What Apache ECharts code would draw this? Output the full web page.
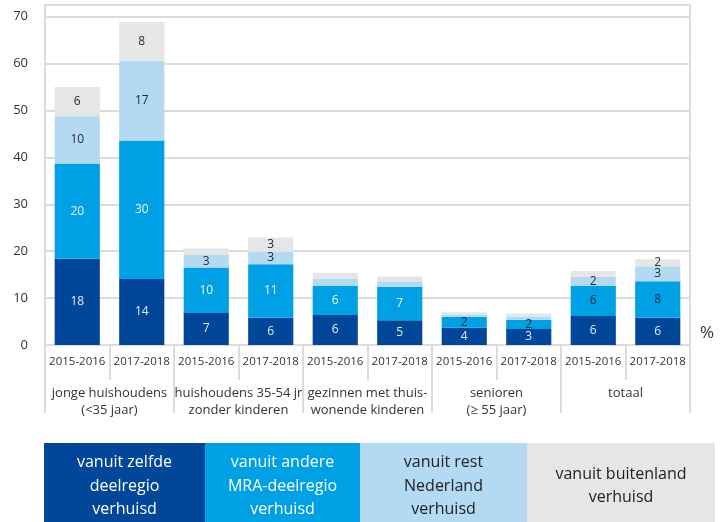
<!DOCTYPE html>
<html><head><meta charset="utf-8">
<script src="https://cdn.jsdelivr.net/npm/echarts@6/dist/echarts.min.js"></script>
<style>html,body{margin:0;padding:0;background:#fff}#c{width:725px;height:522px}</style>
</head><body><div id="c"></div>
<script>
const years = ['2015-2016','2017-2018','2015-2016','2017-2018','2015-2016','2017-2018','2015-2016','2017-2018','2015-2016','2017-2018'];
const groups = ['jonge huishoudens\n(<35 jaar)','huishoudens 35-54 jr\nzonder kinderen','gezinnen met thuis-\nwonende kinderen','senioren\n(≥ 55 jaar)','totaal'];
const zelfde   = [18.4, 14.1, 6.8, 5.8, 6.4, 5.3, 3.7, 3.4, 6.2, 5.8];
const andere   = [20.3, 29.5, 9.7, 11.4, 6.2, 7.1, 2.3, 2.0, 6.4, 7.8];
const rest     = [10.1, 17.0, 2.7, 2.7, 1.5, 1.2, 0.5, 0.7, 1.9, 3.2];
const buiten   = [6.2, 8.3, 1.4, 3.0, 1.3, 1.0, 0.5, 0.6, 1.3, 1.5];
const seriesNames = ['vanuit zelfde\ndeelregio\nverhuisd','vanuit andere\nMRA-deelregio\nverhuisd','vanuit rest\nNederland\nverhuisd','vanuit buitenland\nverhuisd'];
const restLabelShown = [0,1,2,3,8,9];
const buitenLabelShown = [0,1,3,9];
const andereDarkLabel = [6,7,8,9];
const yTicks = [0,10,20,30,40,50,60,70];

const colors = ['#00479a','#00a0e4','#b3d9f3','#e6e6e6'];
const FONT = 'Open Sans';

function mk(vals, labelFn) {
  return vals.map((v,i) => ({value: v, label: labelFn(i)}));
}
const series = [
  {name: seriesNames[0], data: mk(zelfde, i=>({show:true,color:'#e3ebf6'}))},
  {name: seriesNames[1], data: mk(andere, i=>({show:true,color: andereDarkLabel.includes(i)?'#1c2a3a':'#eaf5fc'}))},
  {name: seriesNames[2], data: mk(rest, i=>({show: restLabelShown.includes(i), color:'#2a2a2a'}))},
  {name: seriesNames[3], data: mk(buiten, i=>({show: buitenLabelShown.includes(i), color:'#2a2a2a'}))}
].map((s,k)=>({
  type:'bar', stack:'a', name:s.name, data:s.data, barCategoryGap:'30%',
  itemStyle:{color:colors[k]},
  label:{show:true, position:'inside', fontFamily:FONT, fontSize:12, formatter:p=>Math.round(p.value)},
  xAxisIndex:0, yAxisIndex:0
}));

const chart = echarts.init(document.getElementById('c'), null, {renderer:'canvas'});
const gridCol = '#dcdcdc';
const legendBoxes = [[44,205],[205,360],[360,527],[527,715]];
const graphics = [{type:'text', left:700, top:325, style:{text:'%', font:'17px '+FONT, fill:'#333'}}];
legendBoxes.forEach((b,k)=>{
  graphics.push({type:'rect', shape:{x:b[0], y:443, width:b[1]-b[0], height:79}, style:{fill:colors[k]}});
  graphics.push({type:'text', x:(b[0]+b[1])/2, y:486, style:{text:seriesNames[k], font:'16px '+FONT, lineHeight:23.5, fill:k<2?'#fff':'#222', align:'center', verticalAlign:'middle'}});
});

chart.setOption({
  animation:false,
  grid:{left:45, right:35, top:5, bottom:177, show:true, borderColor:gridCol, borderWidth:2},
  xAxis:[
    {type:'category', data:years, position:'bottom',
     axisLine:{lineStyle:{color:gridCol,width:2}},
     axisTick:{show:true, interval:0, length:35, lineStyle:{color:gridCol,width:2}},
     axisLabel:{interval:0, fontFamily:FONT, fontSize:11.5, color:'#333', margin:11}},
    {type:'category', data:groups, position:'bottom',
     axisLine:{show:false},
     axisTick:{show:true, interval:0, length:68, lineStyle:{color:gridCol,width:2}},
     axisLabel:{interval:0, fontFamily:FONT, fontSize:13, color:'#333', margin:40, lineHeight:17}}
  ],
  yAxis:{type:'value', min:0, max:72.5, interval:10,
    axisLine:{show:false}, axisTick:{show:false},
    splitLine:{lineStyle:{color:gridCol,width:2}},
    axisLabel:{fontFamily:FONT, fontSize:13, color:'#333', margin:17, formatter:v=>yTicks.includes(v)?String(v):''}},
  series: series,
  graphic: graphics
});
</script></body></html>
